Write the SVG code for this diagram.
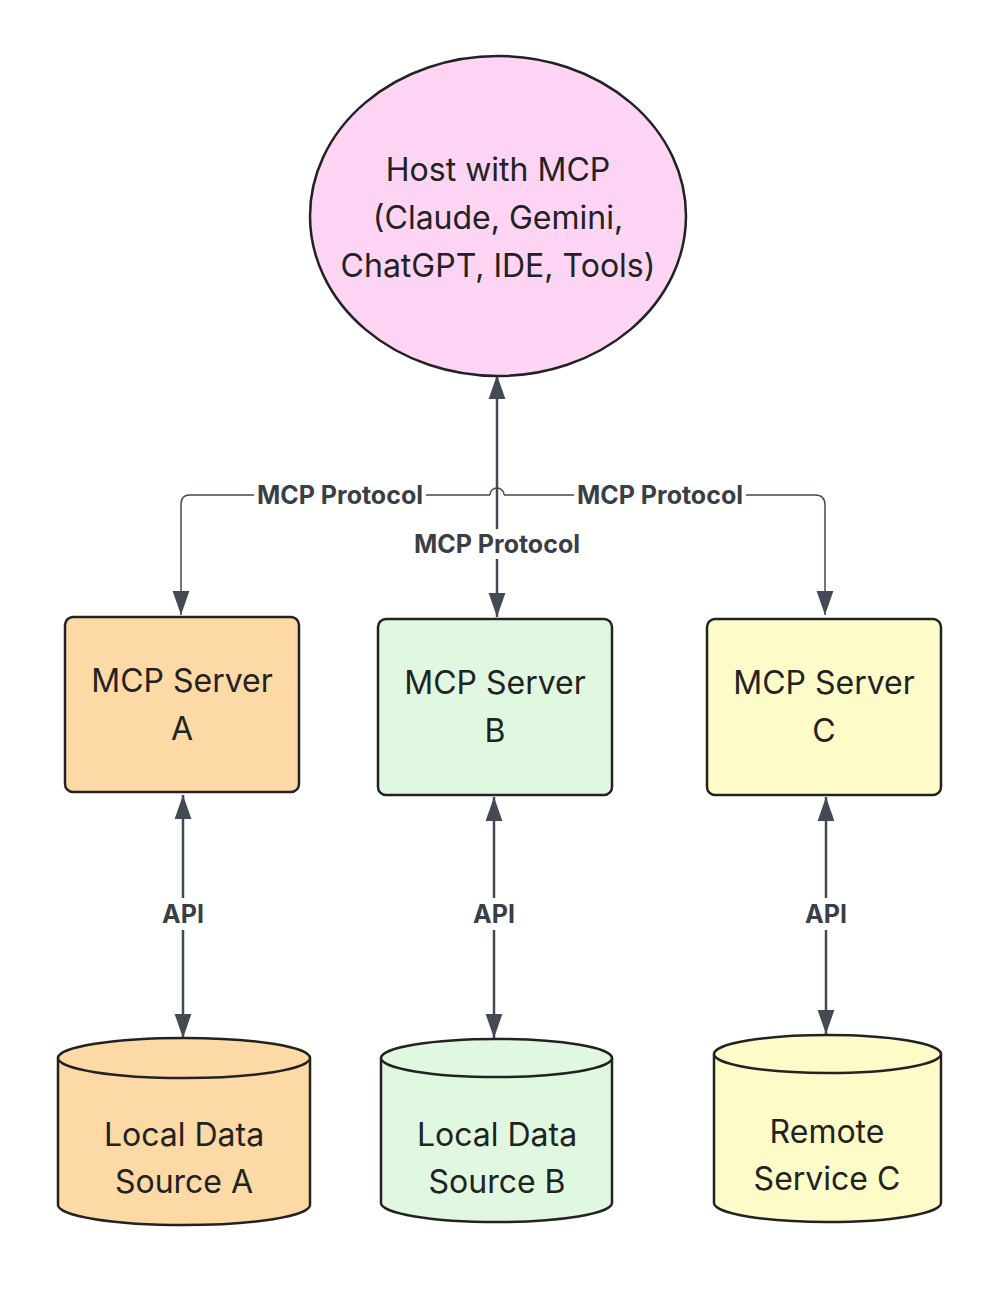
<svg xmlns="http://www.w3.org/2000/svg" width="1000" height="1294" viewBox="0 0 1000 1294">
<style>
.n{stroke:#222;stroke-width:2.5}
.t{font-family:Inter,"Liberation Sans",sans-serif;font-size:32px;fill:#222;text-anchor:middle}
.l{font-family:Inter,"Liberation Sans",sans-serif;font-size:25px;font-weight:bold;fill:#3a3f47;text-anchor:middle}
.c{fill:none;stroke:#434a54;stroke-width:2.5}
.w{fill:none;stroke:#434a54;stroke-width:1.5}
</style>
<defs>
<marker id="ah2" viewBox="0 0 10 10" refX="10" refY="5" markerWidth="24" markerHeight="24" markerUnits="userSpaceOnUse" orient="auto-start-reverse"><path d="M0,1.5L10,5L0,8.5z" fill="#434a54"/></marker>
</defs>
<rect width="1000" height="1294" fill="#fff"/>
<g id="connectors">
<line class="c" x1="497" y1="375" x2="497" y2="617" marker-start="url(#ah2)" marker-end="url(#ah2)"/>
<path class="w" d="M490,495H190Q181,495 181,504V615" marker-end="url(#ah2)"/>
<path class="w" d="M504,495H815Q825,495 825,505V615" marker-end="url(#ah2)"/>
<path class="w" d="M490,495A7,7 0 0 1 504,495"/>
<line class="c" x1="183" y1="795" x2="183" y2="1038" marker-start="url(#ah2)" marker-end="url(#ah2)"/>
<line class="c" x1="494" y1="797" x2="494" y2="1038" marker-start="url(#ah2)" marker-end="url(#ah2)"/>
<line class="c" x1="826" y1="797" x2="826" y2="1034" marker-start="url(#ah2)" marker-end="url(#ah2)"/>
<rect x="254" y="481" width="172" height="28" fill="#fff"/>
<text class="l" x="340" y="504">MCP Protocol</text>
<rect x="574" y="481" width="172" height="28" fill="#fff"/>
<text class="l" x="660" y="504">MCP Protocol</text>
<rect x="410" y="529" width="174" height="30" fill="#fff"/>
<text class="l" x="497" y="553">MCP Protocol</text>
<rect x="160" y="898" width="46" height="32" fill="#fff"/>
<text class="l" x="183" y="923">API</text>
<rect x="471" y="898" width="46" height="32" fill="#fff"/>
<text class="l" x="494" y="923">API</text>
<rect x="803" y="898" width="46" height="32" fill="#fff"/>
<text class="l" x="826" y="923">API</text>
</g>
<g id="host">
<ellipse class="n" cx="498" cy="216" rx="188" ry="160" fill="#fdd4f3"/>
<text class="t" x="498" y="181">Host with MCP</text>
<text class="t" x="498" y="229">(Claude, Gemini,</text>
<text class="t" x="498" y="277">ChatGPT, IDE, Tools)</text>
</g>
<g id="serverA">
<rect class="n" x="65" y="617" width="234" height="175" rx="8" fill="#fdd9a6"/>
<text class="t" x="182" y="692">MCP Server</text>
<text class="t" x="182" y="740">A</text>
</g>
<g id="serverB">
<rect class="n" x="378" y="619" width="234" height="176" rx="8" fill="#e0f8e0"/>
<text class="t" x="495" y="694">MCP Server</text>
<text class="t" x="495" y="742">B</text>
</g>
<g id="serverC">
<rect class="n" x="707" y="619" width="234" height="176" rx="8" fill="#fdfbc8"/>
<text class="t" x="824" y="694">MCP Server</text>
<text class="t" x="824" y="742">C</text>
</g>
<g id="dataA">
<path class="n" d="M58,1058V1205A126,20 0 0 0 310,1205V1058" fill="#fdd9a6"/>
<ellipse class="n" cx="184" cy="1058" rx="126" ry="20" fill="#fdd9a6"/>
<text class="t" x="184" y="1146">Local Data</text>
<text class="t" x="184" y="1193">Source A</text>
</g>
<g id="dataB">
<path class="n" d="M381,1058V1203A115.5,19 0 0 0 612,1203V1058" fill="#e0f8e0"/>
<ellipse class="n" cx="496.5" cy="1058" rx="115.5" ry="19" fill="#e0f8e0"/>
<text class="t" x="497" y="1146">Local Data</text>
<text class="t" x="497" y="1193">Source B</text>
</g>
<g id="serviceC">
<path class="n" d="M714,1054V1203A113.5,19 0 0 0 941,1203V1054" fill="#fdfbc8"/>
<ellipse class="n" cx="827.5" cy="1054" rx="113.5" ry="19" fill="#fdfbc8"/>
<text class="t" x="827" y="1143">Remote</text>
<text class="t" x="827" y="1190">Service C</text>
</g>
</svg>
